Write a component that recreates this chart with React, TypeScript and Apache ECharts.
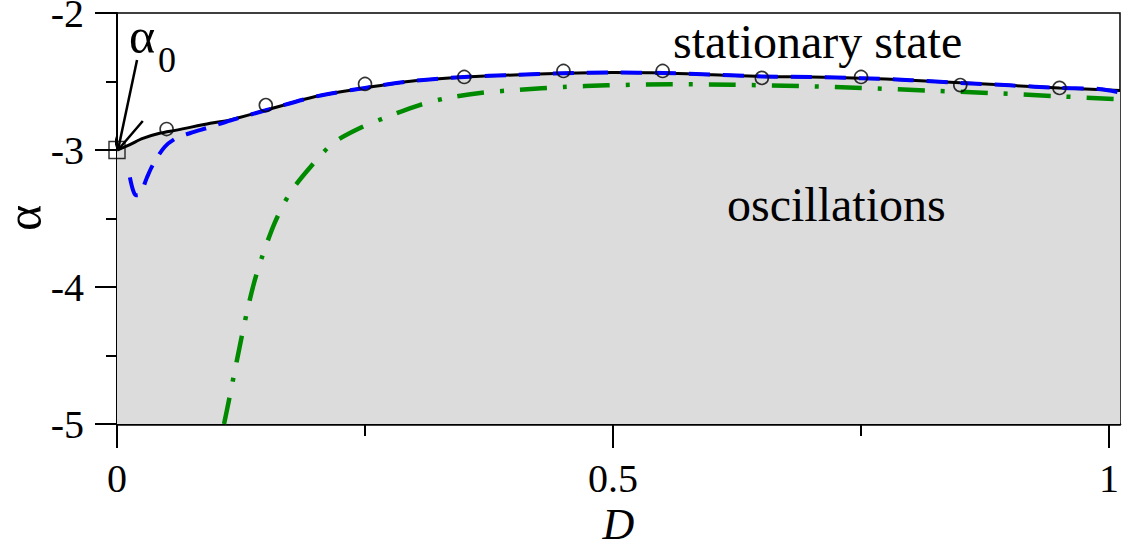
import React, { useEffect, useRef } from "react";
import * as echarts from "echarts";

const X_MAJOR = [0, 0.5, 1];
const X_ALL = [0, 0.25, 0.5, 0.75, 1];
const X_MAX = 1.011;
const Y_MIN = -5;
const Y_MAX = -2;

// solid black boundary (with grey "oscillations" region below)
const BOUNDARY: number[][] = [
  [0, -3.0], [0.013, -2.96], [0.026, -2.915], [0.043, -2.878], [0.06, -2.855],
  [0.094, -2.805], [0.114, -2.78], [0.15, -2.71], [0.2, -2.61], [0.25, -2.547],
  [0.3, -2.495], [0.35, -2.467], [0.4, -2.452], [0.45, -2.44], [0.5, -2.435],
  [0.55, -2.438], [0.6, -2.45], [0.65, -2.463], [0.7, -2.468], [0.75, -2.476],
  [0.8, -2.49], [0.85, -2.51], [0.9, -2.528], [0.95, -2.547], [1.011, -2.565],
];

// blue dashed approximation
const BLUE: number[][] = [
  [0.013, -3.2], [0.016, -3.29], [0.019, -3.33], [0.023, -3.325], [0.03, -3.204],
  [0.036, -3.11], [0.048, -2.978], [0.06, -2.912], [0.074, -2.876], [0.094, -2.832],
  [0.114, -2.785], [0.15, -2.71], [0.2, -2.61], [0.25, -2.547], [0.3, -2.495],
  [0.35, -2.467], [0.4, -2.452], [0.45, -2.44], [0.5, -2.435], [0.55, -2.438],
  [0.6, -2.45], [0.65, -2.463], [0.7, -2.468], [0.75, -2.476], [0.8, -2.49],
  [0.85, -2.51], [0.9, -2.528], [0.95, -2.547], [0.99, -2.555], [1.011, -2.58],
];

// green dash-dot approximation
const GREEN: number[][] = [
  [0.1079, -5.0], [0.1129, -4.825], [0.1179, -4.642], [0.124, -4.423], [0.131, -4.182],
  [0.1381, -3.971], [0.1462, -3.781], [0.1593, -3.526], [0.1744, -3.314], [0.195, -3.124],
  [0.218, -2.949], [0.245, -2.839], [0.272, -2.759], [0.305, -2.672], [0.333, -2.62],
  [0.366, -2.584], [0.406, -2.56], [0.45, -2.54], [0.494, -2.528], [0.559, -2.52],
  [0.621, -2.524], [0.689, -2.533], [0.751, -2.547], [0.817, -2.566], [0.88, -2.584],
  [0.944, -2.606], [1.011, -2.63],
];

// open circles (simulation)
const CIRCLES: number[][] = [
  [0.05, -2.847], [0.15, -2.672], [0.25, -2.518], [0.35, -2.467], [0.45, -2.423],
  [0.55, -2.423], [0.65, -2.474], [0.75, -2.467], [0.85, -2.526], [0.95, -2.547],
];

// alpha_0 marker and arrow (data coordinates)
const ALPHA0: number[][] = [[0, -3.0]];
const ARROW_SHAFT: number[][] = [[0.0202, -2.343], [0.001, -3.0]];
const ARROW_HEAD: number[][] = [[-0.0101, -2.737], [0.001, -3.0], [0.026, -2.788]];

const SERIF = "Liberation Serif";

export default function App() {
  const ref = useRef<HTMLDivElement>(null);
  useEffect(() => {
    if (!ref.current) return;
    const chart = echarts.init(ref.current, null, { renderer: "svg" });
    const axisCommon = {
      type: "value",
      min: 0,
      max: X_MAX,
      splitLine: { show: false },
    };
    const option: any = {
      animation: false,
      backgroundColor: "#ffffff",
      textStyle: { fontFamily: SERIF },
      grid: {
        left: 117, top: 13, right: 4, bottom: 120,
        outerBoundsMode: "none",
        containLabel: false,
        show: true, borderColor: "#000", borderWidth: 1.5, backgroundColor: "transparent",
      },
      xAxis: [
        {
          ...axisCommon,
          interval: 0.25,
          axisLine: { show: true, onZero: false, lineStyle: { color: "#000", width: 2.5 } },
          axisTick: { show: true, customValues: X_ALL, length: 12, lineStyle: { color: "#000", width: 2 } },
          axisLabel: {
            show: true, customValues: X_MAJOR, margin: 34, color: "#000",
            fontFamily: SERIF, fontSize: 40,
            formatter: (v: number) => String(v),
          },
          name: "D",
          nameLocation: "middle",
          nameGap: 71,
          nameTextStyle: { fontFamily: SERIF, fontStyle: "italic", fontSize: 44, color: "#000" },
        },
        {
          ...axisCommon,
          position: "bottom",
          interval: 0.5,
          axisLine: { show: false, onZero: false },
          axisTick: { show: true, customValues: X_MAJOR, length: 24, lineStyle: { color: "#000", width: 2 } },
          axisLabel: { show: false },
        },
      ],
      yAxis: {
        type: "value",
        min: Y_MIN,
        max: Y_MAX,
        interval: 1,
        splitLine: { show: false },
        axisLine: { show: true, onZero: false, lineStyle: { color: "#000", width: 2 } },
        axisTick: { show: true, length: 22, lineStyle: { color: "#000", width: 2 } },
        minorTick: { show: true, splitNumber: 2, length: 11, lineStyle: { color: "#000", width: 2 } },
        axisLabel: {
          margin: 33, color: "#000", fontFamily: SERIF, fontSize: 40,
          formatter: (v: number) => String(v),
        },
      },
      series: [
        {
          type: "line", data: BOUNDARY, symbol: "none", smooth: 0.3, z: 2,
          lineStyle: { color: "#000", width: 3 },
          areaStyle: { color: "#dcdcdc", opacity: 1, origin: "start" },
        },
        {
          type: "line", data: GREEN, symbol: "none", smooth: 0.3, z: 3,
          lineStyle: { color: "#008a00", width: 4.5, type: [27, 16, 4, 16] },
        },
        {
          type: "line", data: BLUE, symbol: "none", smooth: 0.3, z: 4,
          lineStyle: { color: "#0000ff", width: 4, type: [21, 13] },
        },
        {
          type: "scatter", data: CIRCLES, symbol: "circle", symbolSize: 13, z: 5,
          itemStyle: { color: "rgba(0,0,0,0)", borderColor: "#000", borderWidth: 1.6 },
        },
        {
          type: "scatter", data: ALPHA0, symbol: "rect", symbolSize: [16, 17], z: 5, clip: false,
          itemStyle: { color: "rgba(0,0,0,0)", borderColor: "#000", borderWidth: 1.5 },
        },
        {
          type: "line", data: ARROW_SHAFT, symbol: "none", clip: false, z: 6,
          lineStyle: { color: "#000", width: 2.5 },
        },
        {
          type: "line", data: ARROW_HEAD, symbol: "none", clip: false, z: 6,
          lineStyle: { color: "#000", width: 2.5 },
        },
      ],
      graphic: [
        {
          type: "text", x: 673, y: 41, z: 10,
          style: { text: "stationary state", fontFamily: SERIF, fontSize: 48, fill: "#000", verticalAlign: "middle", align: "left" },
        },
        {
          type: "text", x: 727, y: 204, z: 10,
          style: { text: "oscillations", fontFamily: SERIF, fontSize: 48, fill: "#000", verticalAlign: "middle", align: "left" },
        },
        {
          type: "text", x: 129, y: 36, z: 10,
          style: { text: "α", fontFamily: SERIF, fontSize: 50, fill: "#000", verticalAlign: "middle", align: "left" },
        },
        {
          type: "text", x: 158, y: 60, z: 10,
          style: { text: "0", fontFamily: SERIF, fontSize: 36, fill: "#000", verticalAlign: "middle", align: "left" },
        },
        {
          type: "text", x: 24, y: 218, rotation: Math.PI / 2, z: 10,
          style: { text: "α", fontFamily: SERIF, fontSize: 50, fill: "#000", verticalAlign: "middle", align: "center" },
        },
      ],
    };
    chart.setOption(option);
    return () => chart.dispose();
  }, []);
  return (
    <div
      ref={ref}
      style={{ position: "fixed", left: 0, top: 0, width: 1124, height: 544, background: "#fff" }}
    />
  );
}
